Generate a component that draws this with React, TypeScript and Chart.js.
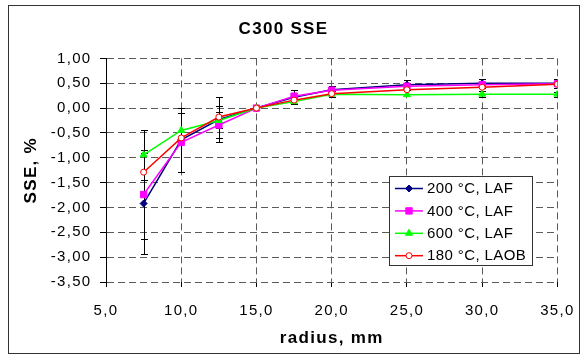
import React, { useEffect, useRef } from 'react';
import { Chart, registerables } from 'chart.js';
import { drawPoint } from 'chart.js/helpers';

Chart.register(...registerables);

// ---- data ----
const radiusMm = [7.5, 10, 12.5, 15, 17.5, 20, 25, 30, 35];

const sse200LAF = [-1.92, -0.64, -0.23, 0, 0.22, 0.37, 0.47, 0.50, 0.50];
const sse400LAF = [-1.74, -0.69, -0.34, 0, 0.24, 0.36, 0.44, 0.47, 0.49];
const sse600LAF = [-0.94, -0.45, -0.25, 0, 0.13, 0.28, 0.27, 0.28, 0.28];
const sse180LAOB = [-1.29, -0.60, -0.18, 0, 0.16, 0.29, 0.37, 0.42, 0.48];

const err200LAF = [1.02, 0.64, 0.45, 0, 0.14, 0.08, 0.10, 0.09, 0.09];
const err400LAF = [0.89, 0.60, 0.27, 0, 0, 0, 0, 0, 0];
const err600LAF = [0.50, 0, 0, 0, 0, 0.06, 0, 0.06, 0.05];
const err180LAOB = [0, 0, 0.23, 0, 0, 0, 0, 0.08, 0];

const seriesLabels = ['200 °C, LAF', '400 °C, LAF', '600 °C, LAF', '180 °C, LAOB'];

const xTickLabels = ['5,0', '10,0', '15,0', '20,0', '25,0', '30,0', '35,0'];
const yTickLabels = ['-3,50', '-3,00', '-2,50', '-2,00', '-1,50', '-1,00', '-0,50', '0,00', '0,50', '1,00'];

const chartTitle = 'C300 SSE';
const xTitle = 'radius, mm';
const yTitle = 'SSE, %';

const FONT = 'Arial, "Liberation Sans", sans-serif';

export default function App() {
  const ref = useRef<HTMLCanvasElement | null>(null);

  useEffect(() => {
    const canvas = ref.current;
    if (!canvas) return;

    const values = [sse200LAF, sse400LAF, sse600LAF, sse180LAOB];
    const errors = [err200LAF, err400LAF, err600LAF, err180LAOB];
    const colors = ['#000080', '#FF00FF', '#00FF00', '#FF0000'];
    const fills = ['#000080', '#FF00FF', '#00FF00', '#FFFFFF'];
    const styles = ['rectRot', 'rect', 'triangle', 'circle'];
    const radii = [3.5, 4.5, 4, 3];

    const datasets = values.map((vals, i) => ({
      label: seriesLabels[i],
      data: radiusMm.map((r, j) => ({ x: r, y: vals[j] })),
      borderColor: colors[i],
      backgroundColor: fills[i],
      pointBackgroundColor: fills[i],
      pointBorderColor: colors[i],
      pointStyle: styles[i],
      pointRadius: radii[i],
      pointBorderWidth: 1,
      borderWidth: 1.5,
      tension: 0,
      fill: false,
      order: 3 - i,
    }));

    const framePlugin = {
      id: 'frame',
      beforeDraw(chart: any) {
        const ctx = chart.ctx;
        ctx.save();
        ctx.fillStyle = '#ffffff';
        ctx.fillRect(0, 0, chart.width, chart.height);
        ctx.strokeStyle = '#333333';
        ctx.lineWidth = 1;
        ctx.strokeRect(8.5, 5.5, 571, 348);
        ctx.restore();
        ctx.letterSpacing = '1.3px';
      },
      beforeDatasetsDraw(chart: any) {
        chart.ctx.letterSpacing = '0px';
      },
      afterDraw(chart: any) {
        chart.ctx.letterSpacing = '0px';
      },
    };

    const errorBarPlugin = {
      id: 'errorBars',
      beforeDatasetsDraw(chart: any) {
        const ctx = chart.ctx;
        const xs = chart.scales.x;
        const ys = chart.scales.y;
        const area = chart.chartArea;
        ctx.save();
        ctx.beginPath();
        ctx.rect(area.left, area.top - 1, area.right - area.left, area.bottom - area.top + 2);
        ctx.clip();
        ctx.strokeStyle = '#000000';
        ctx.lineWidth = 1;
        values.forEach((vals, i) => {
          vals.forEach((v, j) => {
            const e = errors[i][j];
            if (!e) return;
            const x = Math.round(xs.getPixelForValue(radiusMm[j])) + 0.5;
            const yTop = Math.round(ys.getPixelForValue(v + e)) + 0.5;
            const yBot = Math.round(ys.getPixelForValue(v - e)) + 0.5;
            ctx.beginPath();
            ctx.moveTo(x, yTop);
            ctx.lineTo(x, yBot);
            ctx.moveTo(x - 3.5, yTop);
            ctx.lineTo(x + 3.5, yTop);
            ctx.moveTo(x - 3.5, yBot);
            ctx.lineTo(x + 3.5, yBot);
            ctx.stroke();
          });
        });
        ctx.restore();
      },
    };

    const legendPlugin = {
      id: 'insideLegend',
      afterDraw(chart: any) {
        const ctx = chart.ctx;
        ctx.save();
        ctx.fillStyle = '#ffffff';
        ctx.fillRect(389.5, 176.5, 143, 89);
        ctx.strokeStyle = '#333333';
        ctx.lineWidth = 1;
        ctx.strokeRect(389.5, 176.5, 143, 89);
        chart.data.datasets.forEach((ds: any, k: number) => {
          const y = 188.5 + k * 22.4;
          ctx.strokeStyle = ds.borderColor;
          ctx.lineWidth = 1.5;
          ctx.beginPath();
          ctx.moveTo(395, y);
          ctx.lineTo(423, y);
          ctx.stroke();
          ctx.fillStyle = ds.pointBackgroundColor;
          ctx.strokeStyle = ds.pointBorderColor;
          ctx.lineWidth = 1;
          drawPoint(ctx, { pointStyle: ds.pointStyle, radius: ds.pointRadius, rotation: 0, borderWidth: 1 }, 409, y);
          ctx.fillStyle = '#000000';
          ctx.font = '15px ' + FONT;
          ctx.textBaseline = 'middle';
          ctx.textAlign = 'left';
          (ctx as any).letterSpacing = '0.4px';
          ctx.fillText(ds.label, 427, y + 0.5);
        });
        ctx.restore();
      },
    };

    const tickFont = { family: FONT, size: 15 };
    const titleFont = { family: FONT, size: 17, weight: 'bold' as const };

    const chart = new Chart(canvas, {
      type: 'line',
      data: { datasets: datasets as any },
      options: {
        animation: false,
        responsive: false,
        devicePixelRatio: 1,
        layout: { padding: { left: 8, right: 28, top: 5, bottom: 2 } },
        plugins: {
          legend: { display: false },
          tooltip: { enabled: false },
          title: {
            display: true,
            text: chartTitle,
            color: '#000000',
            font: titleFont,
            padding: { top: 14, bottom: 19 },
          },
        },
        scales: {
          x: {
            type: 'linear',
            min: 5,
            max: 35,
            afterFit: (s: any) => {
              s.height = 356 - 2 - 282;
            },
            ticks: {
              stepSize: 5,
              autoSkip: false,
              maxRotation: 0,
              padding: 15,
              color: '#000000',
              font: tickFont,
              callback: (_v: any, i: number) => xTickLabels[i] ?? '',
            },
            grid: { color: '#5a5a5a', lineWidth: 1, tickColor: '#000000', tickLength: 5 },
            border: { display: false, dash: [7, 4] },
            title: {
              display: true,
              text: xTitle,
              color: '#000000',
              font: titleFont,
              padding: { top: 0, bottom: 5 },
            },
          },
          y: {
            type: 'linear',
            min: -3.5,
            max: 1,
            afterFit: (s: any) => {
              s.width = 106 - 8;
            },
            ticks: {
              stepSize: 0.5,
              padding: 8.5,
              color: '#000000',
              font: tickFont,
              callback: (_v: any, i: number) => yTickLabels[i] ?? '',
            },
            grid: { color: '#5a5a5a', lineWidth: 1, tickColor: '#000000', tickLength: 6 },
            border: { display: true, color: '#000000', width: 1, dash: [7, 4] },
            title: {
              display: true,
              text: yTitle,
              color: '#000000',
              font: titleFont,
              padding: { top: 13, bottom: 0 },
            },
          },
        },
      } as any,
      plugins: [framePlugin, errorBarPlugin, legendPlugin],
    });

    return () => chart.destroy();
  }, []);

  return (
    <div style={{ position: 'absolute', left: 0, top: 0, width: 587, height: 356, background: '#ffffff' }}>
      <canvas ref={ref} width={587} height={356} style={{ display: 'block', width: 587, height: 356 }} />
    </div>
  );
}
